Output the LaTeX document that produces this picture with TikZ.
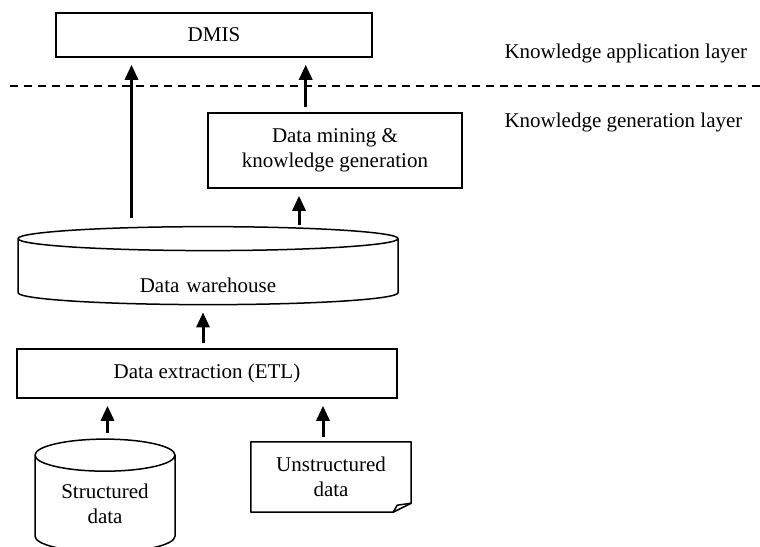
\documentclass[tikz,border=0pt]{standalone}
\usepackage{fontspec}
\setmainfont{Liberation Serif}
\usetikzlibrary{arrows.meta,shapes.geometric}

\begin{document}
\begin{tikzpicture}[x=1pt,y=-1pt,
    font=\fontsize{21}{25}\selectfont,
    box/.style={draw,line width=1.5pt,align=center,inner sep=0pt},
    drum/.style={box,cylinder,shape border rotate=90},
    flow/.style={line width=3pt,-{Triangle[width=13pt,length=15pt]},shorten <=5pt,shorten >=7pt}]

  \clip (0,0) rectangle (760,546);

  \begin{scope}[every node/.style={box}]
    \node (dmis)   at (214,35)    [minimum width=316pt,minimum height=44pt] {DMIS};
    \node (mining) at (335,150.5) [minimum width=254pt,minimum height=75pt] {Data mining \&\\knowledge generation};
    \node (etl)    at (207,373.5) [minimum width=380pt,minimum height=49pt] {Data extraction (ETL)};
    \node (wh)     at (208,272)   [drum,aspect=0.063,text width=380pt,text height=40pt,text depth=0pt,minimum height=78pt] {Data warehouse};
    \node (sd)     at (105,504)   [drum,aspect=0.229,text width=140pt,minimum height=113pt] {Structured\\data};
  \end{scope}

  \node (ud) at (331,477) [minimum width=160pt,minimum height=70pt,align=center,inner sep=0pt] {Unstructured\\data};
  \draw[line width=1.5pt,line join=round] (ud.north west) -- (ud.north east) -- ([yshift=9pt]ud.south east)
    -- ([xshift=-18pt]ud.south east) -- (ud.south west) -- cycle;
  \draw[line width=1.5pt,line join=round] ([xshift=-18pt]ud.south east) -- ([xshift=-14pt,yshift=7pt]ud.south east)
    -- ([yshift=9pt]ud.south east);

  \node (applayer) at (501,58)  [anchor=base west] {Knowledge application layer};
  \node (genlayer) at (501,127) [anchor=base west] {Knowledge generation layer};
  \draw[line width=2.7pt,dash pattern=on 8pt off 6pt] (10,86) -- (760,86);

  \begin{scope}[every path/.style={flow}]
    \draw[shorten <=8pt] ([xshift=-76.5pt]wh.north) -- ([xshift=-82.5pt]dmis.south);
    \draw ([xshift=-29.3pt]mining.north) -- ([xshift=91.7pt]dmis.south);
    \draw[shorten <=1pt] ([xshift=91pt]wh.north) -- ([xshift=-36pt]mining.south);
    \draw ([xshift=-4pt]etl.north) -- ([xshift=-5pt]wh.south);
    \draw ([xshift=2.5pt]sd.north) -- ([xshift=-99.5pt]etl.south);
    \draw ([xshift=-8pt]ud.north) -- ([xshift=116pt]etl.south);
  \end{scope}

\end{tikzpicture}
\end{document}
